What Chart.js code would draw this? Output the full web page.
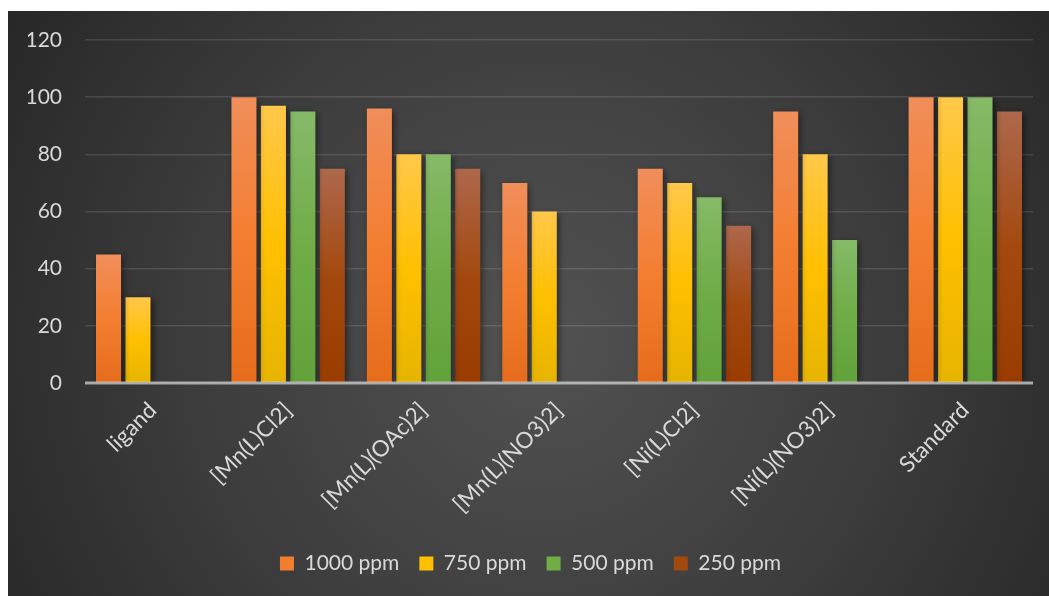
<!DOCTYPE html>
<html>
<head>
<meta charset="utf-8">
<script src="https://cdn.jsdelivr.net/npm/chart.js@4.4.1/dist/chart.umd.min.js"></script>
<style>
  html, body { margin: 0; padding: 0; background: #ffffff; }
  #wrap { position: relative; width: 1049px; height: 596px; }
</style>
</head>
<body>
<div id="wrap"><canvas id="chart" width="1049" height="596"></canvas></div>
<script>
// Compounds tested
const categories = ['ligand', '[Mn(L)Cl2]', '[Mn(L)(OAc)2]', '[Mn(L)(NO3)2]', '[Ni(L)Cl2]', '[Ni(L)(NO3)2]', 'Standard'];

// Activity per concentration (null = not measured)
const ppm1000 = [45, 100, 96, 70, 75, 95, 100];
const ppm750  = [30, 97, 80, 60, 70, 80, 100];
const ppm500  = [null, 95, 80, null, 65, 50, 100];
const ppm250  = [null, 75, 75, null, 55, null, 95];

const seriesNames = ['1000 ppm', '750 ppm', '500 ppm', '250 ppm'];

// Value axis range
const yMin = 0;
const yMax = 120;
const yStep = 20;

const FONT = 'Lato, "Open Sans", sans-serif';
const TEXT = '#d9d9d9';

// Vertical gradient for each bar: lighter at top, deeper at the base
function barFill(stops) {
  return (ctx) => {
    if (ctx.type !== 'data' || ctx.raw == null) return stops[1];
    const y = ctx.chart.scales.y;
    if (!y) return stops[1];
    const top = y.getPixelForValue(ctx.raw);
    const bot = y.getPixelForValue(0);
    if (!isFinite(top) || !isFinite(bot) || top === bot) return stops[1];
    const g = ctx.chart.ctx.createLinearGradient(0, top, 0, bot);
    g.addColorStop(0, stops[0]);
    g.addColorStop(0.5, stops[1]);
    g.addColorStop(1, stops[2]);
    return g;
  };
}

const palettes = [
  ['#f08e5a', '#f47e30', '#e66c1c'],
  ['#ffc84a', '#ffc000', '#e6b400'],
  ['#86ba68', '#70ad47', '#62a23a'],
  ['#ae684c', '#a3490f', '#9a3c00']
];

const seriesValues = [ppm1000, ppm750, ppm500, ppm250];

// Dark radial backdrop inside a thin white margin
const backdrop = {
  id: 'backdrop',
  beforeDraw(chart) {
    const c = chart.ctx;
    c.save();
    c.fillStyle = '#ffffff';
    c.fillRect(0, 0, chart.width, chart.height);
    const x0 = 8, y0 = 11, w = chart.width - x0, h = chart.height - y0;
    const g = c.createRadialGradient(540, 340, 0, 540, 340, 640);
    g.addColorStop(0, '#525252');
    g.addColorStop(0.55, '#3c3c3c');
    g.addColorStop(1, '#262626');
    c.fillStyle = g;
    c.fillRect(x0, y0, w, h);
    c.restore();
  }
};

// Soft drop shadow under the bars, then the baseline drawn over them
const barShadow = {
  id: 'barShadow',
  beforeDatasetsDraw(chart) {
    const c = chart.ctx;
    c.save();
    c.shadowColor = 'rgba(0,0,0,0.55)';
    c.shadowBlur = 7;
    c.shadowOffsetX = 2;
    c.shadowOffsetY = 2;
  },
  afterDatasetsDraw(chart) {
    const c = chart.ctx;
    c.restore();
    const y = chart.scales.y.getPixelForValue(0);
    const a = chart.chartArea;
    c.save();
    c.strokeStyle = 'rgba(215,215,215,0.7)';
    c.lineWidth = 3;
    c.beginPath();
    c.moveTo(a.left, y);
    c.lineTo(a.right, y);
    c.stroke();
    c.restore();
  }
};

new Chart(document.getElementById('chart'), {
  type: 'bar',
  data: {
    labels: categories,
    datasets: seriesValues.map((vals, i) => ({
      label: seriesNames[i],
      data: vals,
      backgroundColor: barFill(palettes[i]),
      borderWidth: 0,
      categoryPercentage: 0.87,
      barPercentage: 0.85
    }))
  },
  options: {
    responsive: false,
    animation: false,
    devicePixelRatio: 1,
    layout: { padding: { left: 28, right: 16, top: 40, bottom: 12 } },
    plugins: {
      tooltip: { enabled: false },
      legend: {
        position: 'bottom',
        labels: {
          color: TEXT,
          font: { family: FONT, size: 21 },
          boxWidth: 14,
          boxHeight: 14,
          padding: 20,
          generateLabels(chart) {
            return chart.data.datasets.map((ds, i) => ({
              text: ds.label,
              fillStyle: palettes[i][1],
              strokeStyle: palettes[i][1],
              lineWidth: 0,
              fontColor: TEXT,
              datasetIndex: i,
              hidden: false
            }));
          }
        }
      }
    },
    scales: {
      x: {
        grid: { display: false, drawTicks: false },
        border: { display: false },
        ticks: {
          color: TEXT,
          font: { family: FONT, size: 22.5 },
          maxRotation: 45,
          minRotation: 45,
          padding: 14,
          autoSkip: false
        },
        afterFit(scale) { scale.height = 150; }
      },
      y: {
        min: yMin,
        max: yMax,
        grid: { color: 'rgba(255,255,255,0.12)', lineWidth: 1.5, drawTicks: false },
        border: { display: false },
        ticks: {
          stepSize: yStep,
          color: TEXT,
          font: { family: FONT, size: 21 },
          padding: 23
        },
        afterFit(scale) { scale.width = 57; }
      }
    }
  },
  plugins: [backdrop, barShadow]
});
</script>
</body>
</html>
